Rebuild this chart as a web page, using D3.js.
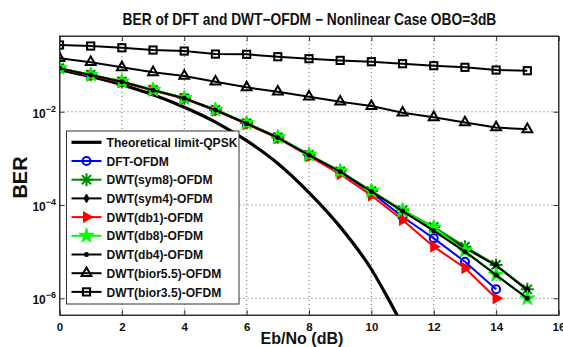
<!DOCTYPE html>
<html><head><meta charset="utf-8">
<script src="https://cdn.jsdelivr.net/npm/d3@7"></script>
<style>
html,body{margin:0;padding:0;background:#fff;}
svg{display:block;font-family:Arial,"Liberation Sans",sans-serif;}
</style></head>
<body>
<svg id="chart" width="563" height="347"></svg>
<script>
// ---------- data ----------
const titleText = "BER of DFT and DWT\u2212OFDM \u2212 Nonlinear Case OBO=3dB";
const xLabel = "Eb/No (dB)";
const yLabel = "BER";
const xTicks = [0,2,4,6,8,10,12,14,16];
const yTickExps = [-2,-4,-6];

const theoryEbNo = [0,1,2,3,4,5,6,7,8,9,10,10.5,11];
const theoryBer  = [0.08,0.057,0.038,0.023,0.0125,0.006,0.0024,7.8e-4,1.85e-4,3.4e-5,4.2e-6,1.1e-6,2.6e-7];

const ebno15 = [0,1,2,3,4,5,6,7,8,9,10,11,12,13,14,15];
const ebno14 = [0,1,2,3,4,5,6,7,8,9,10,11,12,13,14];

const dftBer   = [0.085,0.061,0.044,0.029,0.0194,0.0108,5.6e-3,2.78e-3,1.17e-3,5.1e-4,1.85e-4,5.6e-5,1.93e-5,6.1e-6,1.56e-6];
const sym8Ber  = [0.086,0.062,0.0445,0.0295,0.0196,0.011,5.7e-3,2.85e-3,1.2e-3,5.3e-4,2.0e-4,7.8e-5,3.4e-5,1.28e-5,5.2e-6,1.56e-6];
const sym4Ber  = [0.085,0.061,0.044,0.029,0.0194,0.0109,5.6e-3,2.8e-3,1.18e-3,5.2e-4,1.95e-4,7.5e-5,3.1e-5,1.2e-5,5.0e-6,1.5e-6];
const db1Ber   = [0.084,0.060,0.043,0.0285,0.019,0.0106,5.4e-3,2.7e-3,1.12e-3,4.6e-4,1.6e-4,4.8e-5,1.28e-5,4.46e-6,1.0e-6];
const db8Ber   = [0.086,0.062,0.0445,0.0295,0.0196,0.011,5.7e-3,2.85e-3,1.2e-3,5.3e-4,2.0e-4,7.6e-5,3.3e-5,1.05e-5,3.2e-6,1.0e-6];
const db4Ber   = [0.085,0.061,0.044,0.029,0.0194,0.0109,5.6e-3,2.8e-3,1.18e-3,5.2e-4,1.95e-4,7.4e-5,2.8e-5,1.0e-5,3.16e-6,1.0e-6];
const bior55Ber= [0.140,0.115,0.0895,0.070,0.0583,0.044,0.0333,0.0268,0.021,0.0164,0.0132,9.5e-3,7.6e-3,5.9e-3,4.6e-3,4.2e-3];
const bior35Ber= [0.269,0.256,0.235,0.210,0.200,0.172,0.170,0.151,0.137,0.126,0.118,0.107,0.0969,0.0895,0.0783,0.0757];

const legendNames = ["Theoretical limit-QPSK","DFT-OFDM","DWT(sym8)-OFDM","DWT(sym4)-OFDM","DWT(db1)-OFDM","DWT(db8)-OFDM","DWT(db4)-OFDM","DWT(bior5.5)-OFDM","DWT(bior3.5)-OFDM"];

// ---------- layout ----------
const svg = d3.select("#chart");
const L = 59.5, R = 558.5, T = 36, B = 315;
const x = d3.scaleLinear().domain([0,16]).range([L,R]);
const y = d3.scaleLog().domain([4.39e-7,0.42]).range([B,T]);

// grid
const grid = svg.append("g");
xTicks.slice(1,-1).forEach(v=>{
  grid.append("line").attr("x1",x(v)).attr("x2",x(v)).attr("y1",T).attr("y2",B)
   .attr("stroke","#444").attr("stroke-width",0.8).attr("stroke-dasharray","1,3");
});
yTickExps.forEach(e=>{
  grid.append("line").attr("x1",L).attr("x2",R).attr("y1",y(Math.pow(10,e))).attr("y2",y(Math.pow(10,e)))
   .attr("stroke","#444").attr("stroke-width",0.8).attr("stroke-dasharray","1,3");
});

// axes
const xAxisB = d3.axisBottom(x).tickValues(xTicks).tickSize(-5).tickPadding(8).tickFormat(d3.format("d"));
const gx = svg.append("g").attr("transform",`translate(0,${B})`).call(xAxisB);
const gxt = svg.append("g").attr("transform",`translate(0,${T})`).call(d3.axisTop(x).tickValues(xTicks).tickSize(-5).tickFormat(""));
const gy = svg.append("g").attr("transform",`translate(${L},0)`).call(d3.axisLeft(y).tickValues(yTickExps.map(e=>Math.pow(10,e))).tickSize(-5).tickFormat(""));
const gyr = svg.append("g").attr("transform",`translate(${R},0)`).call(d3.axisRight(y).tickValues(yTickExps.map(e=>Math.pow(10,e))).tickSize(-5).tickFormat(""));
[gx,gxt,gy,gyr].forEach(g=>{g.select(".domain").attr("stroke","#333"); g.selectAll(".tick line").attr("stroke","#333");});
gx.selectAll(".tick text").attr("font-size",11.5).attr("font-weight","bold").attr("fill","#111").attr("font-family","Arial,'Liberation Sans',sans-serif");

// y tick labels 10^e
yTickExps.forEach(e=>{
  const yy = y(Math.pow(10,e));
  const t = svg.append("text").attr("x",56).attr("y",yy+6).attr("text-anchor","end")
    .attr("font-size",12).attr("font-weight","bold").attr("fill","#111");
  t.append("tspan").text("10");
  t.append("tspan").attr("dy",-6).attr("font-size",9).text("\u2212"+Math.abs(e));
});

// clip
svg.append("clipPath").attr("id","plotclip").append("rect").attr("x",L).attr("y",T).attr("width",R-L).attr("height",B-T);
const plot = svg.append("g").attr("clip-path","url(#plotclip)");

// marker helpers
function drawMarker(g, type, cx, cy, color){
  const s = g.append("g").attr("transform",`translate(${cx},${cy})`);
  if(type==="circle"){ s.append("circle").attr("r",4).attr("fill","none").attr("stroke",color).attr("stroke-width",2); }
  else if(type==="asterisk"){
    const r=6.5; let p="";
    for(let k=0;k<4;k++){const a=k*Math.PI/4; p+=`M${-r*Math.cos(a)},${-r*Math.sin(a)}L${r*Math.cos(a)},${r*Math.sin(a)}`;}
    s.append("path").attr("d",p).attr("stroke",color).attr("stroke-width",2);
  }
  else if(type==="diamond"){ s.append("path").attr("d",d3.symbol(d3.symbolDiamond,22)()).attr("fill",color).attr("stroke",color).attr("stroke-width",1); }
  else if(type==="triright"){ s.append("path").attr("d",d3.symbol(d3.symbolTriangle,40)()).attr("transform","rotate(90)").attr("fill",color).attr("stroke",color).attr("stroke-width",1.5); }
  else if(type==="star"){ s.append("path").attr("d",d3.symbol(d3.symbolStar,70)()).attr("fill",color).attr("stroke",color).attr("stroke-width",1); }
  else if(type==="dot"){ s.append("circle").attr("r",2.5).attr("fill",color); }
  else if(type==="triup"){ s.append("path").attr("d",d3.symbol(d3.symbolTriangle,42)()).attr("fill","none").attr("stroke",color).attr("stroke-width",2); }
  else if(type==="square"){ s.append("rect").attr("x",-3.6).attr("y",-3.6).attr("width",7.2).attr("height",7.2).attr("fill","none").attr("stroke",color).attr("stroke-width",2); }
}

const series = [
  {xs:theoryEbNo, ys:theoryBer, color:"#000", w:3.2, marker:null, curve:d3.curveMonotoneX},
  {xs:ebno14, ys:dftBer, color:"#0000ff", w:2, marker:"circle"},
  {xs:ebno15, ys:sym8Ber, color:"#008a00", w:2, marker:"asterisk"},
  {xs:ebno15, ys:sym4Ber, color:"#000", w:2, marker:"diamond"},
  {xs:ebno14, ys:db1Ber, color:"#ff0000", w:2, marker:"triright"},
  {xs:ebno15, ys:db8Ber, color:"#00ff00", w:2, marker:"star"},
  {xs:ebno15, ys:db4Ber, color:"#000", w:2, marker:"dot"},
  {xs:ebno15, ys:bior55Ber, color:"#000", w:2, marker:"triup"},
  {xs:ebno15, ys:bior35Ber, color:"#000", w:2, marker:"square"}
];

series.forEach(s=>{
  const pts = s.xs.map((v,i)=>[v,s.ys[i]]);
  const line = d3.line().x(d=>x(d[0])).y(d=>y(d[1])).curve(s.curve||d3.curveLinear);
  plot.append("path").attr("d",line(pts)).attr("fill","none").attr("stroke",s.color).attr("stroke-width",s.w).attr("stroke-linejoin","round");
  if(s.marker){ pts.forEach(p=>drawMarker(plot,s.marker,x(p[0]),y(p[1]),s.color)); }
});

// frame
svg.append("rect").attr("x",L).attr("y",T).attr("width",R-L).attr("height",B-T).attr("fill","none").attr("stroke","#333").attr("stroke-width",1);

// legend
const lg = svg.append("g");
const lx0=66.5, ly0=131, lw=172.5, lh=173;
lg.append("rect").attr("x",lx0).attr("y",ly0).attr("width",lw).attr("height",lh).attr("fill","#fff").attr("stroke","#333").attr("stroke-width",1);
const rowY0 = 142.3, rowDy = 18.7;
series.forEach((s,i)=>{
  const yy = rowY0 + i*rowDy;
  lg.append("line").attr("x1",71.5).attr("x2",101.5).attr("y1",yy).attr("y2",yy).attr("stroke",s.color).attr("stroke-width",s.w);
  if(s.marker) drawMarker(lg,s.marker,86.5,yy,s.color);
  lg.append("text").attr("class","lgt").attr("font-size",13).attr("font-weight","bold").attr("fill","#111").text(legendNames[i]);
});
const texts = lg.selectAll("text.lgt").nodes();
const kLeg = 131/texts[0].getComputedTextLength();
texts.forEach((n,i)=>{ const yy=rowY0+i*rowDy; d3.select(n).attr("transform",`translate(106.5,${yy+4.6}) scale(${kLeg},1)`); });

// title
const tt = svg.append("text").attr("font-size",16).attr("fill","#111").attr("font-weight","bold").text(titleText);
const kT = 374/tt.node().getComputedTextLength();
tt.attr("transform",`translate(${309.5-187},25) scale(${kT},1)`);

// axis labels
const xl = svg.append("text").attr("font-size",16).attr("font-weight","bold").attr("fill","#111").text(xLabel);
const kX = 83/xl.node().getComputedTextLength();
xl.attr("transform",`translate(${302-41.5},344) scale(${kX},1)`);
svg.append("text").attr("font-size",20).attr("font-weight","bold").attr("fill","#111").attr("text-anchor","middle")
  .attr("transform","translate(27,177.5) rotate(-90)").text(yLabel);
</script>
</body></html>
